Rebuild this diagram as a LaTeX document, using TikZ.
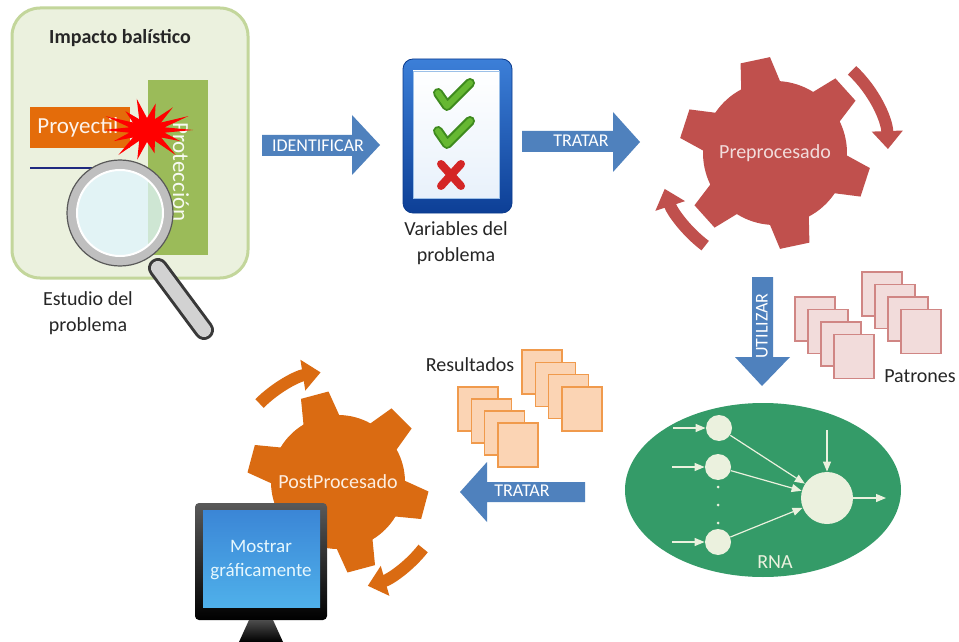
\documentclass[tikz,border=0pt]{standalone}
\usepackage{fontspec}
\setmainfont{Carlito}
\usetikzlibrary{arrows.meta}

\definecolor{panelfill}{HTML}{EBF1DE}
\definecolor{panelline}{HTML}{C3D69B}
\definecolor{protgreen}{HTML}{9BBB59}
\definecolor{bulletorange}{HTML}{E46C0A}
\definecolor{lineblue}{HTML}{1F2A80}
\definecolor{flowblue}{HTML}{4F81BD}
\definecolor{prered}{HTML}{C0504D}
\definecolor{postorange}{HTML}{DA6B12}
\definecolor{patronfill}{HTML}{F2DCDB}
\definecolor{patronline}{HTML}{D08684}
\definecolor{resfill}{HTML}{FBD4B4}
\definecolor{resline}{HTML}{F09A4C}
\definecolor{netgreen}{HTML}{349B68}
\definecolor{neuronfill}{HTML}{EBF1DE}
\definecolor{textgray}{HTML}{262626}
\definecolor{checkgreen}{HTML}{66B832}
\definecolor{checkdark}{HTML}{3E8A1E}
\definecolor{crossred}{HTML}{D42626}
\definecolor{boomred}{HTML}{FF0000}
\definecolor{frameline}{HTML}{0A3A8C}
\definecolor{frametop}{HTML}{3C7FD8}
\definecolor{framebottom}{HTML}{0D3F96}
\definecolor{sheetline}{HTML}{9CC0E8}
\definecolor{sheetbottom}{HTML}{E8F1FB}
\definecolor{screentop}{HTML}{3B86D6}
\definecolor{screenmid}{HTML}{2F6FBE}
\definecolor{screenbottom}{HTML}{4FB0EA}

% gear outline: #1 first tooth angle, #2 body radius, #3 tip radius
\newcommand{\gearshape}[3]{%
  (#1-16:#2) \foreach \tooth in {0,60,...,300}{
    -- (#1+\tooth-9:#3) -- (#1+\tooth+9:#3) -- (#1+\tooth+16:#2)
    arc[start angle=#1+\tooth+16, end angle=#1+\tooth+44, radius=#2]} -- cycle}

\begin{document}
\begin{tikzpicture}[x=0.5pt,y=-0.5pt,
  every node/.style={font=\fontsize{10}{13}\selectfont,align=center,inner sep=0pt,text=textgray},
  arrowtext/.style={text=white,font=\fontsize{9}{11}\selectfont},
  bartext/.style={font=\fontsize{11.5}{13}\selectfont},
  patron/.style={draw=patronline,fill=patronfill,line width=0.6pt},
  resultado/.style={draw=resline,fill=resfill,line width=0.6pt},
  neuron/.style={circle,fill=neuronfill,minimum size=#1},
  netarrow/.style={draw=neuronfill,line width=0.6pt,-{Triangle[length=5pt,width=4pt]}},
  turnarrow/.style={line width=6pt,-{Triangle[length=9pt,width=15pt]}}]

\fill[white] (0,0) rectangle (959,642);
\useasboundingbox (0,0) rectangle (959,642);

% ballistic impact panel
\path[draw=panelline,fill=panelfill,line width=1.5pt,rounded corners=14pt] (12,8) rectangle (248,278);
\node[font=\bfseries\fontsize{10}{12}\selectfont] (impacto) at (120,38) {Impacto balístico};
\path[fill=protgreen] (148,80) rectangle (208,255);
\node[bartext,rotate=-90,text=white!92!protgreen] (proteccion) at (181,172) {Protección};
\path[fill=bulletorange] (30,107) rectangle (130,148);
\node[bartext,anchor=west,text=white!92!bulletorange] (proyectil) at (37,127) {Proyectil};
\begin{scope}[shift={(147,130)}]
  \fill[boomred] (0:46 and 32)
    \foreach \k/\s in {0/0.8,1/1.0,2/0.75,3/0.95,4/1.0,5/0.8,6/0.95,7/1.0,8/0.75,9/1.0,10/0.85,11/0.9,12/1.0,13/1.0}{
      -- (\k*25.71+12.86:18 and 12) -- ({(\k+1)*25.71}:{46*\s} and {32*\s})} -- cycle;
\end{scope}
\draw[lineblue,line width=1pt] (30,168) -- (125,168);

% magnifier
\draw[line width=10pt,line cap=round,color=gray!45!black] (158,268) -- (204,330);
\draw[line width=7pt,line cap=round,color=gray!35] (158,268) -- (204,330);
\fill[cyan!12,opacity=0.75] (120,213) circle (48);
\draw[line width=5pt,color=gray!50] (120,213) circle (48);
\draw[line width=1pt,white] (120,213) circle (43);
\draw[line width=0.6pt,gray!70!black] (120,213) circle (53);
\node (estudio) at (88,313) {Estudio del\\problema};

% identify
\path[fill=flowblue] (262,135) -- (352,135) -- (352,115) -- (380,145) -- (352,175) -- (352,156) -- (262,156) -- cycle;
\node[arrowtext] (identificar) at (318,146) {IDENTIFICAR};

% checklist
\path[draw=frameline,top color=frametop,bottom color=framebottom,rounded corners=5pt] (403,59) rectangle (512,213);
\path[draw=sheetline,top color=white,bottom color=sheetbottom] (413,71) rectangle (499,198);
\foreach \y in {0,38} {
  \draw[checkdark,line width=5pt,line cap=round,line join=round] (438,{93+\y}) -- (447,{106+\y}) -- (470,{83+\y});
  \draw[checkgreen,line width=3pt,line cap=round,line join=round] (438,{93+\y}) -- (447,{106+\y}) -- (470,{83+\y});
}
\draw[crossred,line width=4pt,line cap=round] (441,164) -- (461,186) (461,164) -- (441,186);
\node (variables) at (456,243) {Variables del\\problema};

% treat
\path[fill=flowblue] (522,131) -- (613,131) -- (613,112) -- (640,142) -- (613,172) -- (613,152) -- (522,152) -- cycle;
\node[arrowtext] (tratar) at (581,141) {TRATAR};

% preprocessing gear
\begin{scope}[shift={(775,153)}]
  \fill[prered] \gearshape{-102}{72}{96};
  \draw[prered,turnarrow] (-47:113) arc[start angle=-47,end angle=-2,radius=113];
  \draw[prered,turnarrow] (127:116) arc[start angle=127,end angle=162,radius=116];
  \node[text=patronfill] (prepro) at (0,0) {Preprocesado};
\end{scope}

% use
\path[fill=flowblue] (752,277) -- (773,277) -- (773,357) -- (790,357) -- (762,386) -- (735,357) -- (752,357) -- cycle;
\node[arrowtext,rotate=90] (utilizar) at (762,326) {UTILIZAR};

% patterns
\foreach \i in {0,...,3} {
  \path[patron] ({795+13*\i},{297+12.5*\i}) rectangle +(40,44);
  \path[patron] ({862+13*\i},{272+12.5*\i}) rectangle +(40,44);
}
\node (patrones) at (920,376) {Patrones};

% neural net
\fill[netgreen] (763,490) ellipse (138 and 87);
\node[neuron=13pt] (in1) at (719,428) {};
\node[neuron=13pt] (in2) at (718,467) {};
\node[neuron=13pt] (in3) at (718,542) {};
\node[neuron=26pt] (out) at (827,498) {};
\foreach \y in {487,505,523} \fill[neuronfill] (718,\y) circle (1.5);
\coordinate (x1) at (673,428);
\coordinate (x2) at (672,467);
\coordinate (x3) at (672,542);
\coordinate (bias) at (827,430);
\coordinate (y) at (886,498);
\draw[netarrow] (x1) -- (in1);
\draw[netarrow] (x2) -- (in2);
\draw[netarrow] (x3) -- (in3);
\draw[netarrow] (bias) -- (out);
\draw[netarrow] (out) -- (y);
\foreach \n in {in1,in2,in3} \draw[netarrow] (\n) -- (out);
\node[text=neuronfill] (rna) at (775,562) {RNA};

% results
\foreach \i in {0,...,3} {
  \path[resultado] ({522+13.3*\i},{350+12.3*\i}) rectangle +(40,44);
  \path[resultado] ({458+13.3*\i},{387+12*\i}) rectangle +(40,44);
}
\node (resultados) at (470,365) {Resultados};

% treat back
\path[fill=flowblue] (585,482) -- (487,482) -- (487,462) -- (460,492) -- (487,522) -- (487,502) -- (585,502) -- cycle;
\node[arrowtext] (tratar2) at (522,491) {TRATAR};

% postprocessing gear
\begin{scope}[shift={(338,482)}]
  \fill[postorange] \gearshape{-105}{67}{91};
  \draw[postorange,turnarrow] (-135:111) arc[start angle=-135,end angle=-99,radius=111];
  \draw[postorange,turnarrow] (38:108) arc[start angle=38,end angle=74,radius=108];
  \node[text=resfill!40!white] (postpro) at (0,0) {PostProcesado};
\end{scope}

% monitor
\path[top color=gray!70!black,bottom color=black,rounded corners=2pt] (195,503) rectangle (327,620);
\path[top color=gray!60!black,bottom color=black] (249,620) -- (273,620) -- (283,642) -- (239,642) -- cycle;
\path[top color=screentop,middle color=screenmid,bottom color=screenbottom] (203,510) rectangle (320,607);
\node[text=white!90!cyan,font=\fontsize{9.5}{12}\selectfont] (mostrar) at (261,560) {Mostrar\\gráficamente};

\end{tikzpicture}
\end{document}
